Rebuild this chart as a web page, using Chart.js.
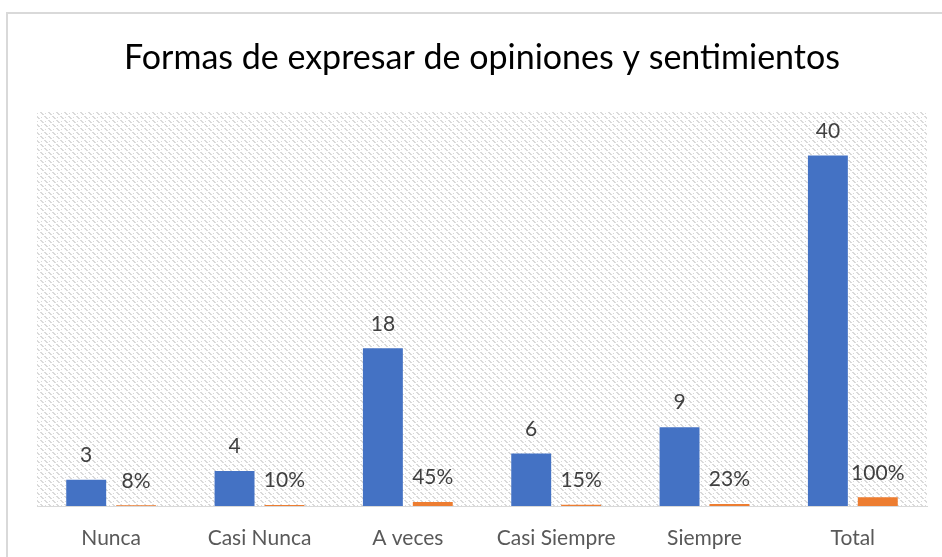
<!DOCTYPE html>
<html>
<head>
<meta charset="utf-8">
<script src="https://cdn.jsdelivr.net/npm/chart.js@4.4.0/dist/chart.umd.min.js"></script>
<style>
    html, body { margin: 0; padding: 0; background: #fff; }
    #frame {
        position: absolute; left: 6px; top: 12px; width: 1000px; height: 600px;
        border-left: 2px solid #d9d9d9; border-top: 2px solid #d9d9d9;
    }
    #wrap { position: absolute; left: 0; top: 0; width: 942px; height: 557px; }
</style>
</head>
<body>
<div id="frame"></div>
<div id="wrap"><canvas id="opBar"></canvas></div>
<script>
//data
const categories = ['Nunca', 'Casi Nunca', 'A veces', 'Casi Siempre', 'Siempre', 'Total'];
const counts = [3, 4, 18, 6, 9, 40];
const shares = [0.08, 0.10, 0.45, 0.15, 0.23, 1.00];

const fontName = 'Lato, "Open Sans", sans-serif';

//diagonal hatch for the plot area
function makeHatch() {
    const c = document.createElement('canvas');
    c.width = 8; c.height = 8;
    const g = c.getContext('2d');
    g.fillStyle = '#dadada';
    for (let y = 0; y < 8; y++) {
        if (y % 4 !== 3) {
            g.fillRect(y, y, 1, 1);
            g.fillRect((y + 1) % 8, y, 1, 1);
        }
        if (y % 4 === 1) {
            g.fillRect((y + 4) % 8, y, 1, 1);
        }
    }
    return g.createPattern(c, 'repeat');
}

const hatchPlugin = {
    id: 'hatch',
    beforeDraw(chart) {
        const a = chart.chartArea;
        const ctx = chart.ctx;
        ctx.save();
        ctx.fillStyle = makeHatch();
        ctx.fillRect(a.left, a.top, a.right - a.left, a.bottom - a.top);
        ctx.restore();
    }
};

//labels on top of each bar
const labelPlugin = {
    id: 'barLabels',
    afterDatasetsDraw(chart) {
        const ctx = chart.ctx;
        ctx.save();
        ctx.font = '21px ' + fontName;
        ctx.fillStyle = '#404040';
        ctx.textAlign = 'center';
        ctx.textBaseline = 'bottom';
        chart.data.datasets.forEach((ds, di) => {
            const meta = chart.getDatasetMeta(di);
            meta.data.forEach((bar, i) => {
                const v = ds.data[i];
                const txt = di === 0 ? String(v) : Math.round(v * 100) + '%';
                ctx.fillText(txt, bar.x, bar.y - 14);
            });
        });
        ctx.restore();
    }
};

const opData = {
    labels: categories,
    datasets: [
        {
            label: 'Frecuencia', //blue
            backgroundColor: '#4472C4',
            data: counts,
            barPercentage: 0.8,
            categoryPercentage: 0.673
        },
        {
            label: 'Porcentaje', //orange
            backgroundColor: '#ED7D31',
            data: shares,
            barPercentage: 0.8,
            categoryPercentage: 0.673
        }
    ]
};

const opOptions = {
    responsive: true,
    maintainAspectRatio: false,
    animation: false,
    layout: { padding: { left: 37, right: 15, top: 0, bottom: 0 } },
    plugins: {
        legend: { display: false },
        tooltip: { enabled: false },
        title: {
            display: true,
            text: 'Formas de expresar de opiniones y sentimientos',
            color: '#000',
            font: { family: fontName, size: 34, weight: 'normal' },
            padding: { top: 38, bottom: 33 }
        }
    },
    scales: {
        x: {
            grid: { display: false, drawTicks: false },
            border: { display: true, color: '#d9d9d9', width: 1 },
            ticks: { color: '#595959', font: { family: fontName, size: 21 }, padding: 20 },
            afterFit(scale) { scale.height = 51; }
        },
        y: {
            display: false,
            min: 0,
            max: 45
        }
    }
};

var ctx = document.getElementById('opBar').getContext('2d');
const opBar = new Chart(ctx, {
    type: 'bar',
    data: opData,
    options: opOptions,
    plugins: [hatchPlugin, labelPlugin]
});
</script>
</body>
</html>
